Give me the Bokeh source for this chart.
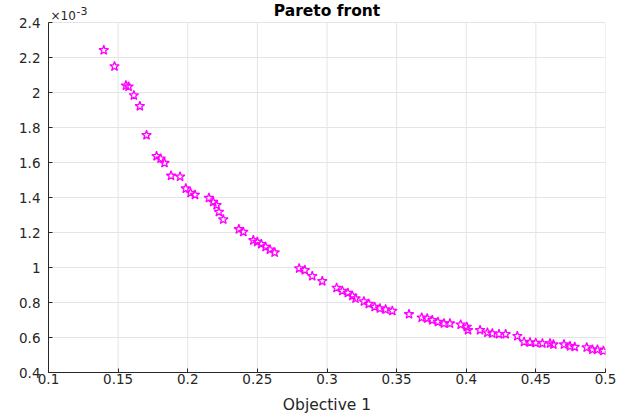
from bokeh.plotting import figure
from bokeh.models import Range1d, FixedTicker, NumeralTickFormatter, Label
from bokeh.embed import file_html
from bokeh.resources import INLINE

# Objective 1 values
obj1 = [0.1397, 0.1474, 0.1556, 0.1575, 0.1613, 0.1656, 0.1704, 0.1776, 0.1805, 0.1833,
        0.1880, 0.1945, 0.1986, 0.2020, 0.2052, 0.2152, 0.2183, 0.2207, 0.2224, 0.2255,
        0.2367, 0.2399, 0.2471, 0.2499, 0.2528, 0.2559, 0.2590, 0.2624, 0.2800, 0.2841,
        0.2894, 0.2966, 0.3069, 0.3110, 0.3150, 0.3182, 0.3205, 0.3265, 0.3300, 0.3342,
        0.3380, 0.3421, 0.3469, 0.3589, 0.3680, 0.3720, 0.3756, 0.3797, 0.3840, 0.3883,
        0.3960, 0.4004, 0.4013, 0.4099, 0.4152, 0.4187, 0.4235, 0.4283, 0.4367, 0.4415,
        0.4458, 0.4499, 0.4547, 0.4602, 0.4626, 0.4702, 0.4745, 0.4779, 0.4865, 0.4906,
        0.4942, 0.4985]
# Objective 2 values, in units of 1e-3
obj2_e3 = [2.243, 2.151, 2.041, 2.035, 1.985, 1.923, 1.757, 1.637, 1.623, 1.598,
           1.525, 1.520, 1.452, 1.427, 1.416, 1.398, 1.375, 1.357, 1.318, 1.275,
           1.219, 1.204, 1.156, 1.147, 1.134, 1.118, 1.103, 1.086, 0.995, 0.985,
           0.951, 0.922, 0.884, 0.867, 0.855, 0.838, 0.823, 0.806, 0.792, 0.775,
           0.766, 0.760, 0.752, 0.733, 0.714, 0.709, 0.699, 0.689, 0.680, 0.680,
           0.674, 0.661, 0.642, 0.642, 0.628, 0.623, 0.619, 0.619, 0.608, 0.575,
           0.572, 0.569, 0.566, 0.566, 0.560, 0.560, 0.550, 0.546, 0.543, 0.531,
           0.531, 0.523]

x_ticks = [0.1, 0.15, 0.2, 0.25, 0.3, 0.35, 0.4, 0.45, 0.5]
y_ticks = [0.4, 0.6, 0.8, 1.0, 1.2, 1.4, 1.6, 1.8, 2.0, 2.2, 2.4]

FONT = "DejaVu Sans"
TXT = "#262626"
GRID = "#e4e4e4"

# frame extends above the axes box so the title and exponent can sit inside it
Y_TOP = 0.4 + 372 / 174.85

p = figure(width=622, height=419, output_backend="svg", toolbar_location=None,
           x_range=Range1d(0.1, 0.5), y_range=Range1d(0.4, Y_TOP),
           min_border_left=48, min_border_right=17, min_border_top=0, min_border_bottom=47)
p.background_fill_color = "white"
p.border_fill_color = "white"
p.outline_line_color = None

p.xaxis.ticker = FixedTicker(ticks=x_ticks)
p.yaxis.ticker = FixedTicker(ticks=y_ticks)
p.yaxis.bounds = (y_ticks[0], y_ticks[-1])
p.xaxis.formatter = NumeralTickFormatter(format="0.[00]")
p.yaxis.formatter = NumeralTickFormatter(format="0.[0]")
for ax in (p.xaxis, p.yaxis):
    ax.major_tick_in = 4
    ax.major_tick_out = 0
    ax.minor_tick_line_color = None
    ax.axis_line_color = TXT
    ax.major_tick_line_color = TXT
    ax.major_label_text_font = FONT
    ax.major_label_text_font_size = "13.5px"
    ax.major_label_text_color = TXT
p.xaxis.major_label_standoff = 1
p.yaxis.major_label_standoff = 8
p.xaxis.axis_label = "Objective 1"
p.xaxis.axis_label_text_font = FONT
p.xaxis.axis_label_text_font_size = "15.5px"
p.xaxis.axis_label_text_font_style = "normal"
p.xaxis.axis_label_text_color = TXT
p.xaxis.axis_label_standoff = 9

p.xgrid.visible = False
p.ygrid.grid_line_color = GRID
p.ygrid.grid_line_width = 1

n = len(x_ticks)
p.segment(x0=x_ticks, x1=x_ticks, y0=[y_ticks[0]] * n, y1=[y_ticks[-1]] * n,
          line_color=GRID, line_width=1)

p.scatter(obj1, obj2_e3, marker="star", size=10, fill_color=None,
          line_color="#ff00ff", line_width=1.3)

p.add_layout(Label(x=0.3, y=y_ticks[-1], y_offset=3, text="Pareto front", text_align="center",
                   text_baseline="bottom", text_font=FONT, text_font_size="15.5px",
                   text_font_style="bold", text_color="black"))
p.add_layout(Label(x=0.1, y=y_ticks[-1], x_offset=2, y_offset=0, text="\u00d710",
                   text_align="left", text_baseline="bottom", text_font=FONT,
                   text_font_size="12px", text_color=TXT))
p.add_layout(Label(x=0.1, y=y_ticks[-1], x_offset=28, y_offset=8, text="-3",
                   text_align="left", text_baseline="bottom", text_font=FONT,
                   text_font_size="11px", text_color=TXT))

open("out.html", "w").write(file_html(p, INLINE))
